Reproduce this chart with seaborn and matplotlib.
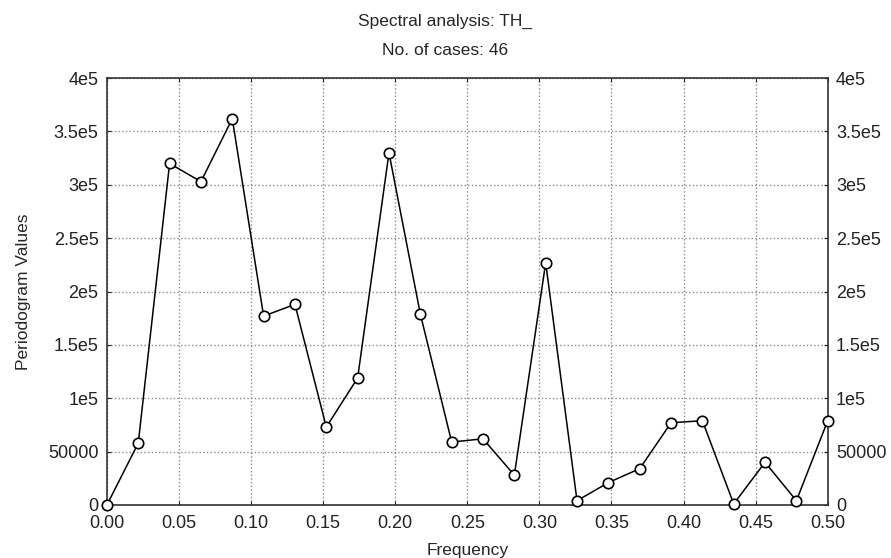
import numpy as np
import pandas as pd
import matplotlib
matplotlib.use('Agg')
import matplotlib.pyplot as plt
import seaborn as sns

n_cases = 46
frequency = [k / n_cases for k in range(24)]
periodogram = [0, 58000, 320000, 303000, 362000, 177000, 188000, 73000,
               119000, 330000, 179000, 59000, 62000, 28000, 227000, 4000,
               21000, 34000, 77000, 79000, 1000, 40000, 4000, 79000]

x_ticks = [0.00, 0.05, 0.10, 0.15, 0.20, 0.25, 0.30, 0.35, 0.40, 0.45, 0.50]
x_labels = ['0.00', '0.05', '0.10', '0.15', '0.20', '0.25', '0.30', '0.35', '0.40', '0.45', '0.50']
y_ticks = [0, 50000, 100000, 150000, 200000, 250000, 300000, 350000, 400000]
y_labels = ['0', '50000', '1e5', '1.5e5', '2e5', '2.5e5', '3e5', '3.5e5', '4e5']

df = pd.DataFrame({'Frequency': frequency, 'Periodogram Values': periodogram})

sns.set_style('white')
plt.rcParams['font.family'] = ['Liberation Sans', 'DejaVu Sans']

fig = plt.figure(figsize=(8.91, 5.58), dpi=100)
ax = fig.add_axes([0.12, 0.095, 0.809, 0.765])

sns.lineplot(data=df, x='Frequency', y='Periodogram Values', ax=ax,
             color='black', linewidth=1.1, marker='o', markersize=7.5,
             markerfacecolor='white', markeredgecolor='black', markeredgewidth=1.2,
             clip_on=False, zorder=3)

ax.set_xlim(0, 0.5)
ax.set_ylim(0, 400000)
ax.set_xticks(x_ticks)
ax.set_xticklabels(x_labels)
ax.set_yticks(y_ticks)
ax.set_yticklabels(y_labels)
ax.grid(True, linestyle=':', color='#8a8a8a', linewidth=1.0)
ax.tick_params(axis='both', labelsize=13, length=3, direction='in',
               right=True, labelright=True, top=True, bottom=True, left=True,
               colors='#222222', pad=6)
ax.tick_params(axis='x', pad=7)
for s in ax.spines.values():
    s.set_color('#333333')
    s.set_linewidth(1.2)

ax.set_xlabel('Frequency', fontsize=12.5, labelpad=8)
ax.set_ylabel('Periodogram Values', fontsize=12.5, labelpad=12)
fig.text(0.5, 0.961, 'Spectral analysis: TH_', ha='center', va='center', fontsize=12.5)
fig.text(0.5, 0.910, 'No. of cases: 46', ha='center', va='center', fontsize=12.5)

plt.savefig('out.png', dpi=100)
plt.close()
